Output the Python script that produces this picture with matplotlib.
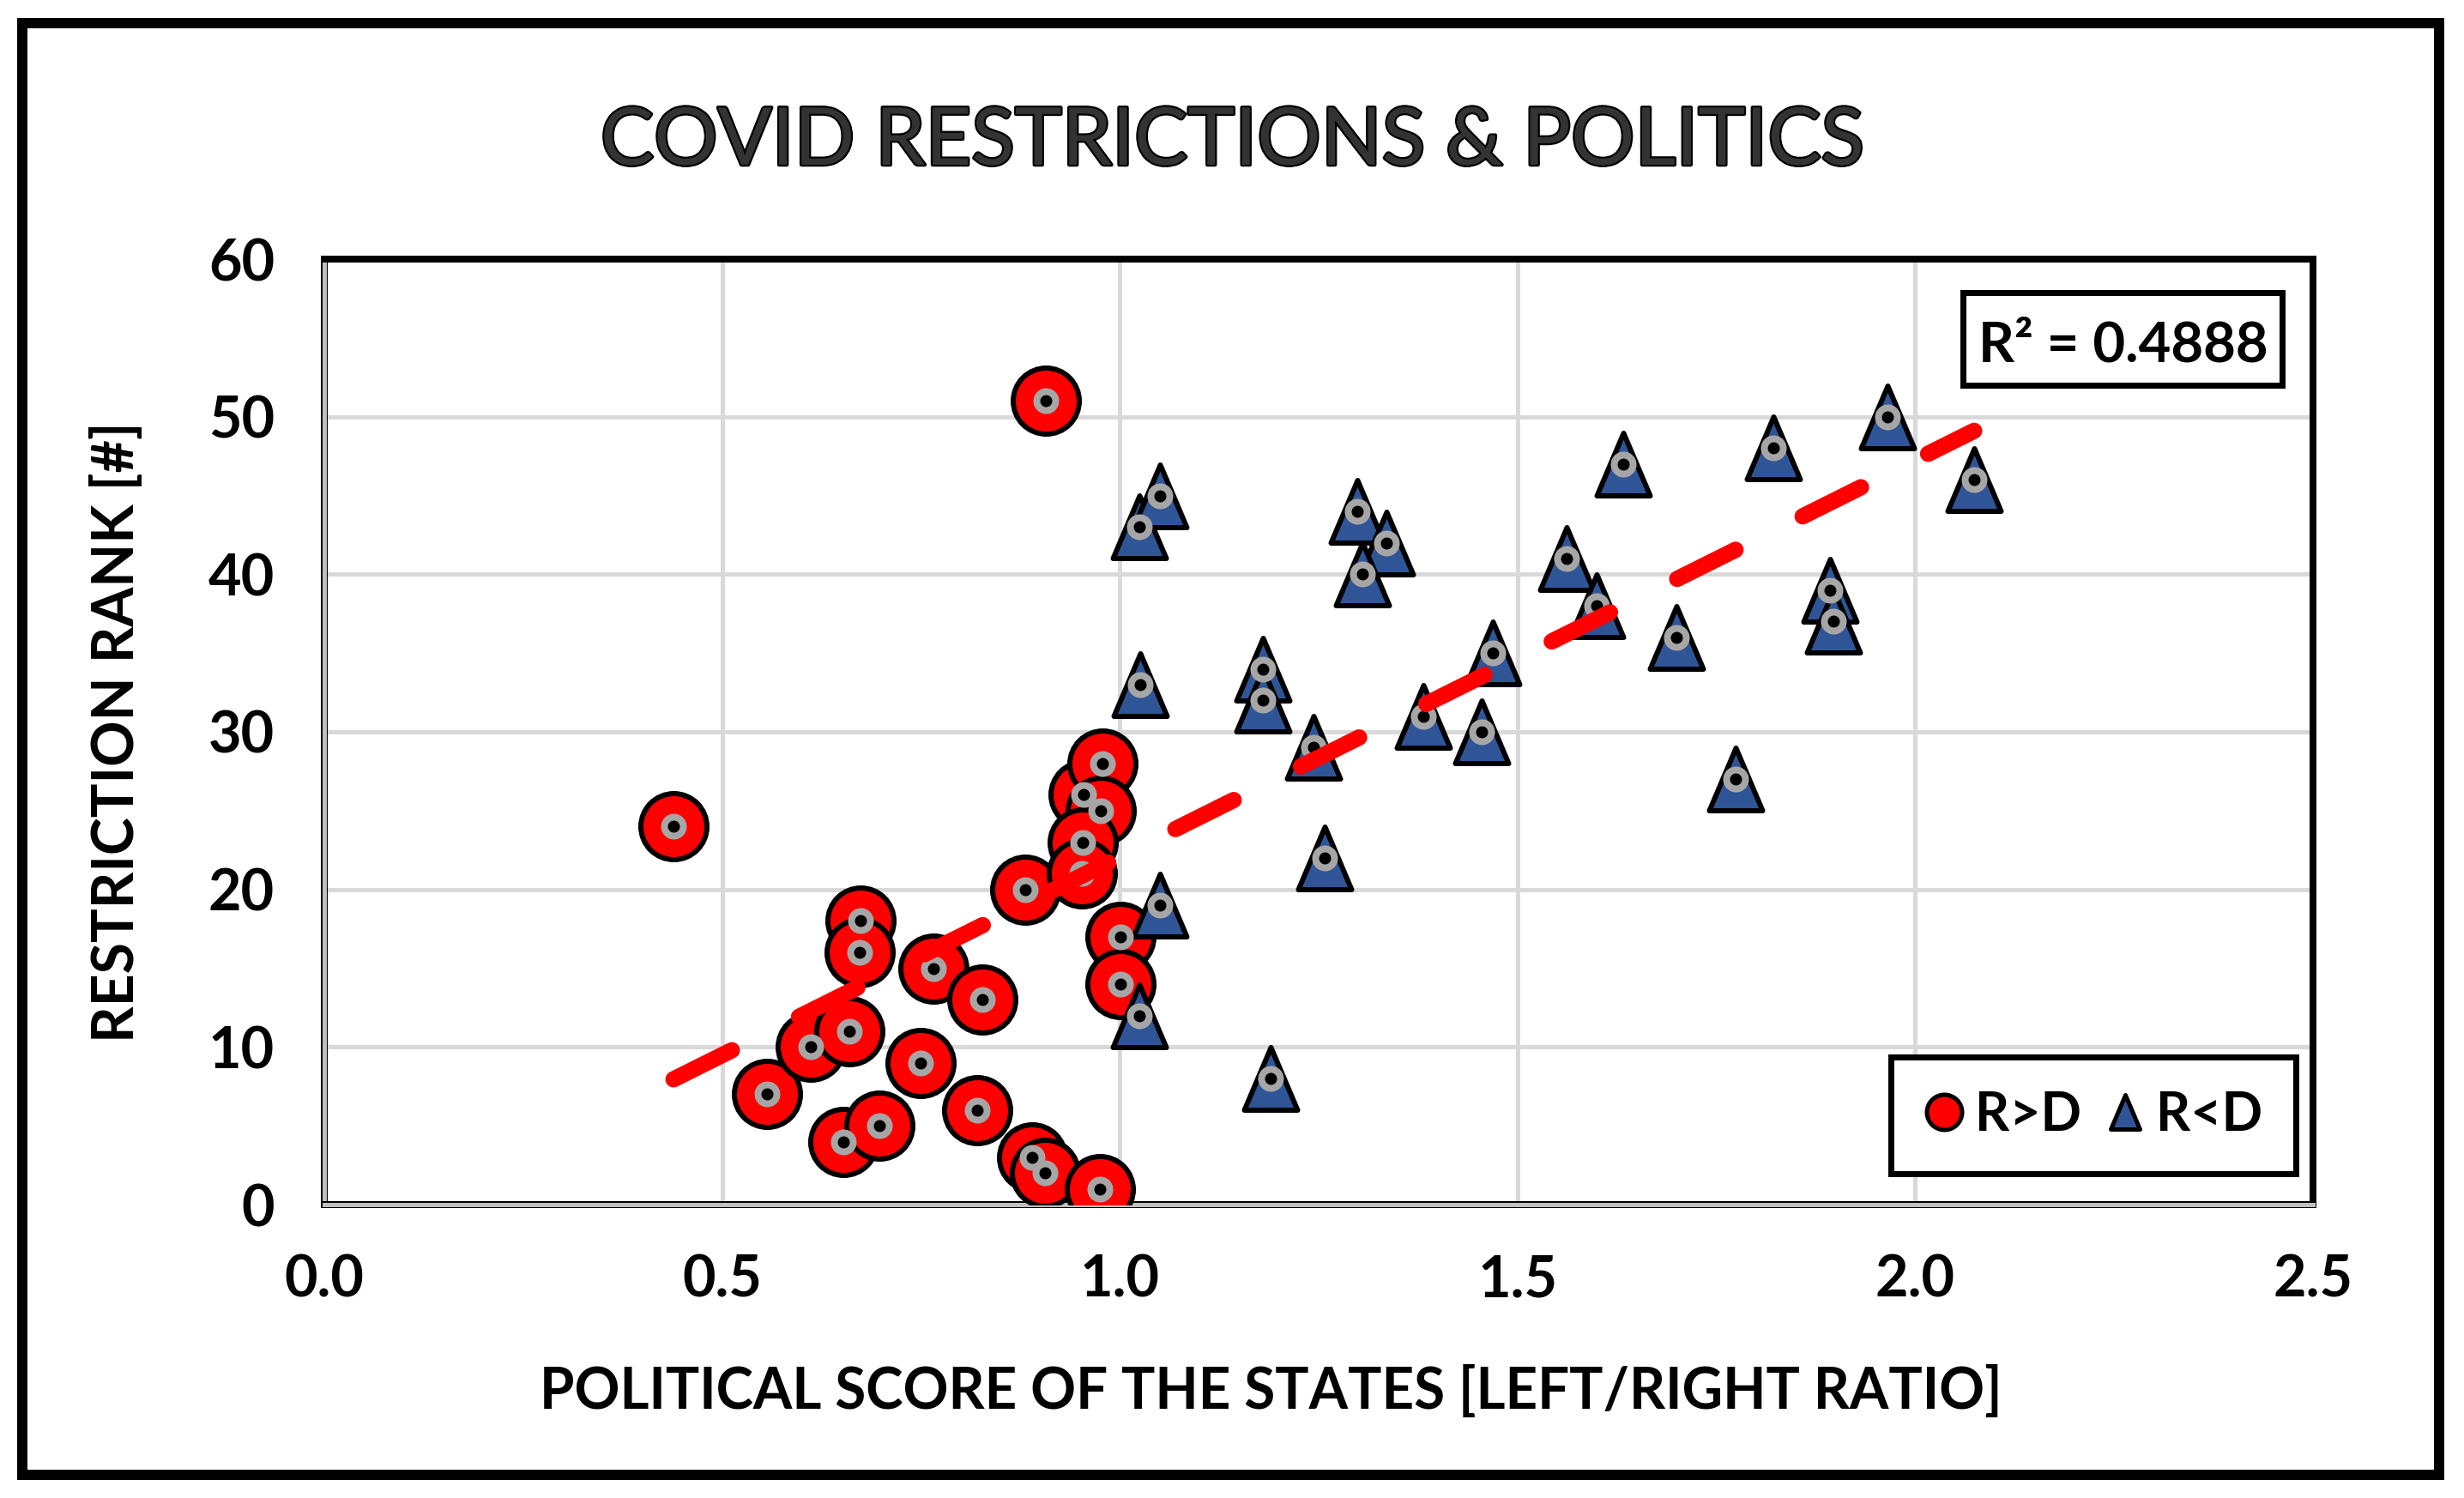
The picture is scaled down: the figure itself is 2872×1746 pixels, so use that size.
import matplotlib
matplotlib.use('Agg')
import matplotlib.pyplot as plt
import matplotlib.patheffects as pe
from matplotlib.path import Path
from matplotlib.lines import Line2D
from matplotlib.patches import Rectangle
import numpy as np

# states where R > D (red circles)
rd_score = [0.439, 0.907, 0.556, 0.612, 0.660, 0.653, 0.698, 0.674, 0.673, 0.766, 0.827, 0.750,
            0.821, 0.881, 0.890, 0.906, 0.975, 0.954, 0.978, 0.976, 0.953, 0.952, 1.001, 1.001]
rd_rank = [24, 51, 7, 10, 11, 4, 5, 18, 16, 15, 13, 9,
           6, 20, 3, 2, 1, 26, 28, 25, 23, 21, 17, 14]

# states where R < D (blue triangles)
dr_score = [1.025, 1.050, 1.026, 1.050, 1.025, 1.190, 1.180, 1.180, 1.244, 1.258, 1.298, 1.335, 1.305,
            1.382, 1.455, 1.469, 1.562, 1.599, 1.633, 1.700, 1.774, 1.822, 1.893, 1.897, 1.965, 2.074]
dr_rank = [43, 45, 33, 19, 12, 8, 34, 32, 29, 22, 44, 42, 40,
           31, 30, 35, 41, 38, 47, 36, 27, 48, 39, 37, 50, 46]

x_ticks = [0.0, 0.5, 1.0, 1.5, 2.0, 2.5]
y_ticks = [0, 10, 20, 30, 40, 50, 60]
r2_text = 'R\u00b2 = 0.4888'

W, H, DPI = 2872, 1746, 200


def pt(px):
    return px * 72.0 / DPI


plt.rcParams['font.family'] = ['Lato', 'DejaVu Sans']

fig = plt.figure(figsize=(W / DPI, H / DPI), dpi=DPI, facecolor='white')
ax = fig.add_axes([378 / W, 1 - 1404 / H, (2696 - 378) / W, (1404 - 302) / H])

tri = Path([(0, 1), (-0.85, -1), (0.85, -1), (0, 1)],
           [Path.MOVETO, Path.LINETO, Path.LINETO, Path.CLOSEPOLY])

ax.plot(rd_score, rd_rank, ls='none', marker='o', ms=pt(77), mfc='#FF0000', mec='black',
        mew=pt(6), zorder=3)
ax.plot(dr_score, dr_rank, ls='none', marker=tri, ms=pt(73), mfc='#2F5597', mec='black',
        mew=pt(6), zorder=4)
ax.plot(rd_score + dr_score, rd_rank + dr_rank, ls='none', marker='o', ms=pt(22), mfc='black',
        mec='#A6A6A6', mew=pt(8), zorder=5)

# linear trend over all states
all_x = np.array(rd_score + dr_score)
all_y = np.array(rd_rank + dr_rank)
k, b = np.polyfit(all_x, all_y, 1)
tx = np.array([all_x.min(), all_x.max()])
ax.plot(tx, k * tx + b, color='#FF0000', lw=pt(19), dashes=(4.0, 4.6),
        dash_capstyle='round', solid_capstyle='round', zorder=6)

ax.set_xlim(0, 2.5)
ax.set_ylim(0, 60)
ax.set_xticks(x_ticks, ['%.1f' % v for v in x_ticks], fontsize=24, fontweight='bold')
ax.set_yticks(y_ticks, [str(v) for v in y_ticks], fontsize=24, fontweight='bold')
ax.tick_params(length=0, pad=pt(58))
ax.grid(True, color='#D9D9D9', lw=pt(5))
ax.set_axisbelow(True)

for s in ['top', 'right']:
    ax.spines[s].set_color('black')
    ax.spines[s].set_linewidth(pt(8))
for s in ['left', 'bottom']:
    ax.spines[s].set_color('#BFBFBF')
    ax.spines[s].set_linewidth(pt(5))
    ax.spines[s].set_path_effects([pe.withStroke(linewidth=pt(8), foreground='black')])

# legend
handles = [
    Line2D([], [], ls='none', marker='o', ms=pt(41), mfc='#FF0000', mec='black', mew=pt(5), label='R>D'),
    Line2D([], [], ls='none', marker=tri, ms=pt(40), mfc='#2F5597', mec='black', mew=pt(5), label='R<D'),
]
leg = ax.legend(handles=handles, ncol=2, loc='center',
                bbox_to_anchor=(2440 / W, 1 - 1300 / H), bbox_transform=fig.transFigure,
                prop={'weight': 'bold', 'size': 22.5}, frameon=True, fancybox=False,
                edgecolor='black', framealpha=1, borderpad=0.62, handlelength=0.75,
                handletextpad=0.2, columnspacing=0.45, borderaxespad=0)
leg.get_frame().set_linewidth(pt(7))
leg.set_zorder(10)

# R squared box
fig.add_artist(Rectangle((2288 / W, 1 - 449 / H), (2660 - 2288) / W, (449 - 341) / H,
                         transform=fig.transFigure, facecolor='white', edgecolor='black',
                         lw=pt(7), zorder=5))
fig.text(2475 / W, 1 - 421.7 / H, r2_text, ha='center', va='baseline', fontsize=23.5,
         fontweight='bold', zorder=6)

# titles
fig.text(0.5, 1 - 192 / H, 'COVID RESTRICTIONS & POLITICS', ha='center', va='baseline',
         fontsize=33.5, color='#333333',
         path_effects=[pe.withStroke(linewidth=1.6, foreground='black')])
fig.text(1481 / W, 1 - 1642 / H, 'POLITICAL SCORE OF THE STATES [LEFT/RIGHT RATIO]',
         ha='center', va='baseline', fontsize=23.6, fontweight='bold')
fig.text(137 / W, 1 - 853 / H, 'RESTRICTION RANK [#]', rotation=90, ha='center', va='center',
         fontsize=23.8, fontweight='bold')

# outer frame
fig.add_artist(Rectangle((26 / W, 1 - 1719 / H), (2843 - 26) / W, (1719 - 26.7) / H,
                         transform=fig.transFigure, fill=False, edgecolor='black', lw=pt(12)))

fig.savefig('out.png', dpi=DPI, facecolor='white')
